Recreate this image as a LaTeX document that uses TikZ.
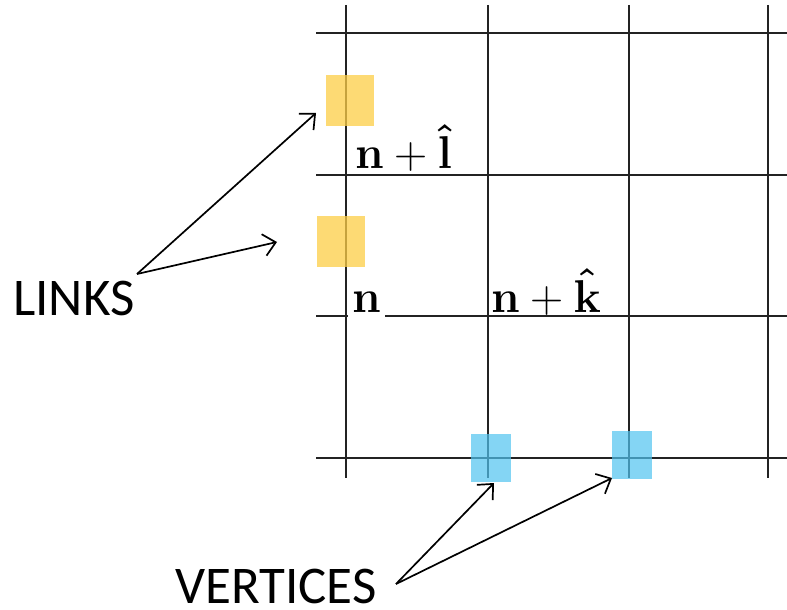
\RequirePackage{fix-cm}
\documentclass[tikz,border=0pt]{standalone}
\usepackage{amsmath}
\usepackage[no-math]{fontspec}
\newfontfamily\calib{Carlito}
\usetikzlibrary{arrows.meta}
\definecolor{linkyellow}{RGB}{252,205,70}
\definecolor{vertblue}{RGB}{80,195,240}
\definecolor{gridc}{RGB}{35,35,35}
\tikzset{
  gridline/.style={draw=gridc, line width=2.1pt},
  linkbox/.style={fill=linkyellow, fill opacity=0.75, draw=none, inner sep=0pt, minimum width=48pt, minimum height=51pt},
  vertbox/.style={fill=vertblue, fill opacity=0.7, draw=none, inner sep=0pt, minimum width=40pt, minimum height=48pt},
  pointer/.style={draw=black, line width=1.7pt, -{Straight Barb[length=12pt,width=22pt,line width=1.7pt]}},
  lbl/.style={font=\calib\fontsize{53}{62}\selectfont, inner sep=0pt, anchor=base west},
  mathlbl/.style={font=\fontsize{46}{55}\selectfont, inner sep=0pt, anchor=base west}
}
\begin{document}
\begin{tikzpicture}[x=1pt,y=-1pt]
\useasboundingbox (0,0) rectangle (787,610);
% horizontal grid lines
\foreach \yy in {33,175,316,458} \draw[gridline] (316,\yy) -- (787,\yy);
% label n with white background cutting the line
\node[mathlbl, fill=white, inner xsep=4pt, inner ysep=6pt] (n) at (348,312) {$\mathbf{n}$};
% vertical grid lines
\foreach \xx in {346,488,629,768} \draw[gridline] (\xx,5) -- (\xx,478);
% math labels
\node[mathlbl] (nl) at (355,168) {$\mathbf{n}+\boldsymbol{\hat{\mathbf{l}}}$};
\node[mathlbl] (nk) at (491,312) {$\mathbf{n}+\boldsymbol{\hat{\mathbf{k}}}$};
% boxes
\node[linkbox] (link1) at (350,100.5) {};
\node[linkbox] (link2) at (341,241.5) {};
\node[vertbox] (vert1) at (491,458) {};
\node[vertbox] (vert2) at (632,455) {};
% text labels
\node[lbl] (links) at (13,315) {LINKS};
\node[lbl] (vertices) at (175,603) {VERTICES};
% arrow end coordinates
\coordinate (ls) at (137,274);
\coordinate (l1) at (316,113);
\coordinate (l2) at (277,242);
\coordinate (vs) at (396,584);
\coordinate (v1) at (494,483);
\coordinate (v2) at (612,478);
\draw[pointer] (ls) -- (l1);
\draw[pointer] (ls) -- (l2);
\draw[pointer] (vs) -- (v1);
\draw[pointer] (vs) -- (v2);
\end{tikzpicture}
\end{document}
